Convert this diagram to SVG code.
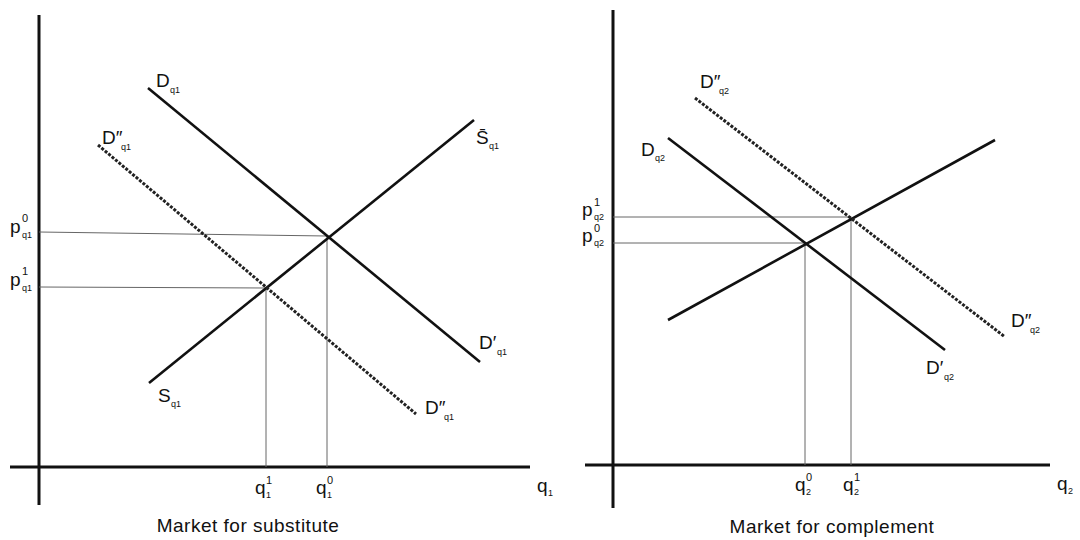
<svg xmlns="http://www.w3.org/2000/svg" width="1080" height="540" viewBox="0 0 1080 540">
<style>
.axis{stroke:#111;stroke-width:3;fill:none}
.curve{stroke:#111;stroke-width:2.6;fill:none}
.dash{stroke:#222;stroke-width:3;fill:none;stroke-dasharray:3 1.5}
.guide{stroke:#666;stroke-width:1;fill:none}
text{font-family:"Liberation Sans",Arial,sans-serif;fill:#111}
.m{font-size:19px}
.sub{font-size:9px}
.sup{font-size:11px}
.cap{font-size:19px;letter-spacing:0.5px}
</style>
<rect width="1080" height="540" fill="#fff"/>
<g id="connectors">
<line class="axis" x1="39" y1="15" x2="39" y2="505"/>
<line class="axis" x1="10" y1="467" x2="530" y2="467"/>
<line class="axis" x1="613" y1="10" x2="613" y2="508"/>
<line class="axis" x1="585" y1="465" x2="1050" y2="465"/>
<line class="guide" x1="39" y1="232" x2="327" y2="236"/>
<line class="guide" x1="39" y1="287" x2="266" y2="288"/>
<line class="guide" x1="266" y1="288" x2="266" y2="467"/>
<line class="guide" x1="327" y1="236" x2="327" y2="467"/>
<line class="guide" x1="613" y1="217" x2="851" y2="217"/>
<line class="guide" x1="613" y1="243" x2="805" y2="243"/>
<line class="guide" x1="805" y1="243" x2="805" y2="465"/>
<line class="guide" x1="851" y1="217" x2="851" y2="465"/>
</g>
<g id="left-demand"><line class="curve" x1="148" y1="88" x2="480" y2="362"/></g>
<g id="left-supply"><line class="curve" x1="149" y1="383" x2="474" y2="120"/></g>
<g id="left-demand2"><line class="dash" x1="98" y1="145" x2="416" y2="414"/></g>
<g id="right-demand"><line class="curve" x1="668" y1="138" x2="945" y2="350"/></g>
<g id="right-supply"><line class="curve" x1="668" y1="320" x2="995" y2="140"/></g>
<g id="right-demand2"><line class="dash" x1="695" y1="98" x2="1005" y2="337"/></g>
<g id="labels-left">
<text class="m" x="10" y="233">p<tspan class="sup" x="22" y="222">0</tspan><tspan class="sub" x="22" y="238">q1</tspan></text>
<text class="m" x="10" y="286">p<tspan class="sup" x="22" y="275">1</tspan><tspan class="sub" x="22" y="291">q1</tspan></text>
<text class="m" x="156" y="87">D<tspan class="sub" x="170" y="93">q1</tspan></text>
<text class="m" x="102" y="144">D″<tspan class="sub" x="121" y="150">q1</tspan></text>
<text class="m" x="476" y="144">S̄<tspan class="sub" x="489" y="149">q1</tspan></text>
<text class="m" x="158" y="402">S<tspan class="sub" x="171" y="407">q1</tspan></text>
<text class="m" x="479" y="349">D′<tspan class="sub" x="497" y="355">q1</tspan></text>
<text class="m" x="425" y="414">D″<tspan class="sub" x="444" y="420">q1</tspan></text>
<text class="m" x="255" y="494">q<tspan class="sup" x="266" y="484">1</tspan><tspan class="sub" x="266" y="498">1</tspan></text>
<text class="m" x="316" y="494">q<tspan class="sup" x="327" y="484">0</tspan><tspan class="sub" x="327" y="498">1</tspan></text>
<text class="m" x="537" y="492">q<tspan class="sub" x="548" y="496">1</tspan></text>
<text class="cap" x="248" y="532" text-anchor="middle">Market for substitute</text>
</g>
<g id="labels-right">
<text class="m" x="582" y="216">p<tspan class="sup" x="594" y="206">1</tspan><tspan class="sub" x="594" y="220">q2</tspan></text>
<text class="m" x="582" y="242">p<tspan class="sup" x="594" y="232">0</tspan><tspan class="sub" x="594" y="246">q2</tspan></text>
<text class="m" x="700" y="88">D″<tspan class="sub" x="719" y="94">q2</tspan></text>
<text class="m" x="641" y="156">D<tspan class="sub" x="655" y="161">q2</tspan></text>
<text class="m" x="1011" y="327">D″<tspan class="sub" x="1030" y="333">q2</tspan></text>
<text class="m" x="926" y="374">D′<tspan class="sub" x="944" y="380">q2</tspan></text>
<text class="m" x="795" y="491">q<tspan class="sup" x="806" y="481">0</tspan><tspan class="sub" x="806" y="495">2</tspan></text>
<text class="m" x="843" y="491">q<tspan class="sup" x="854" y="481">1</tspan><tspan class="sub" x="854" y="495">2</tspan></text>
<text class="m" x="1057" y="490">q<tspan class="sub" x="1068" y="494">2</tspan></text>
<text class="cap" x="832" y="533" text-anchor="middle">Market for complement</text>
</g>
</svg>
